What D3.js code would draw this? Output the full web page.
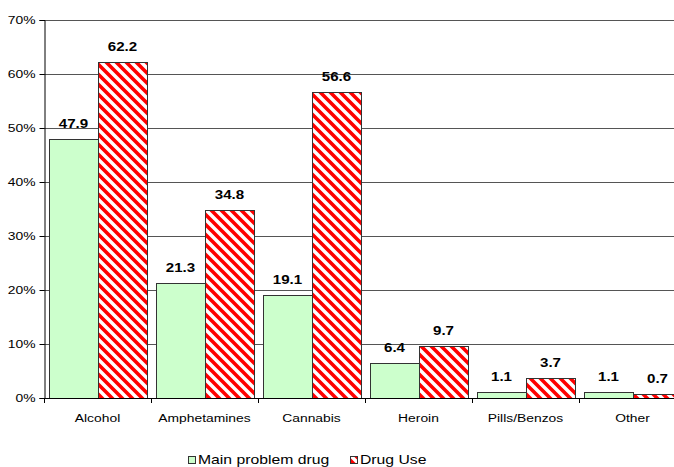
<!DOCTYPE html>
<html>
<head>
<meta charset="utf-8">
<script src="https://cdn.jsdelivr.net/npm/d3@7"></script>
<style>
  body { margin: 0; background: #fff; }
  svg { display: block; font-family: Arial, "Liberation Sans", sans-serif; }
</style>
</head>
<body>
<svg id="chart" width="674" height="467"></svg>
<script>
// Drug categories and the two series (percent of clients)
const categories = ["Alcohol", "Amphetamines", "Cannabis", "Heroin", "Pills/Benzos", "Other"];
const mainProblemDrug = [47.9, 21.3, 19.1, 6.4, 1.1, 1.1];
const drugUse = [62.2, 34.8, 56.6, 9.7, 3.7, 0.7];
const seriesNames = ["Main problem drug", "Drug Use"];
const yTicks = [0, 10, 20, 30, 40, 50, 60, 70];

const W = 674, H = 467;
const margin = { left: 44, top: 20, bottom: 69 };
const plotBottom = H - margin.bottom; // 398
const stretch = 1.26; // horizontal text widening

const svg = d3.select("#chart");

// Hatched fill used for the "Drug Use" series
const defs = svg.append("defs");
const pat = defs.append("pattern")
  .attr("id", "hatch")
  .attr("patternUnits", "userSpaceOnUse")
  .attr("width", 10).attr("height", 10);
pat.append("rect").attr("width", 10).attr("height", 10).attr("fill", "#fff");
pat.append("path")
  .attr("d", "M-5,5 L5,15 M0,0 L10,10 M5,-5 L15,5")
  .attr("stroke", "#ff0000").attr("stroke-width", 3.6);

const fills = ["#ccffcc", "url(#hatch)"];

const x0 = d3.scaleBand().domain(categories).range([margin.left, margin.left + 107 * 6]);
const x1 = d3.scaleBand().domain([0, 1]).range([5, 103]);
const y = d3.scaleLinear().domain([0, 70]).range([plotBottom, margin.top]);

// widen a text node horizontally around its anchor point
function widen(sel) {
  sel.each(function () {
    const t = d3.select(this);
    const tx = +t.attr("x") || 0;
    const ty = +t.attr("y") || 0;
    t.attr("x", 0).attr("y", 0)
     .attr("transform", `translate(${tx},${ty}) scale(${stretch},1)`);
  });
}

// Horizontal gridlines
svg.append("g").selectAll("line")
  .data(yTicks.filter(d => d > 0))
  .join("line")
  .attr("x1", margin.left).attr("x2", W)
  .attr("y1", d => Math.round(y(d)) + 0.5).attr("y2", d => Math.round(y(d)) + 0.5)
  .attr("stroke", "#555").attr("stroke-width", 1);

// Bars
const series = [mainProblemDrug, drugUse];
const groups = svg.append("g").selectAll("g")
  .data(categories)
  .join("g")
  .attr("transform", d => `translate(${x0(d)},0)`);

groups.selectAll("rect")
  .data((d, i) => series.map((s, k) => ({ k, v: s[i] })))
  .join("rect")
  .attr("x", d => x1(d.k) + 0.5)
  .attr("width", x1.bandwidth())
  .attr("y", d => Math.round(y(d.v)) + 0.5)
  .attr("height", d => plotBottom - Math.round(y(d.v)))
  .attr("fill", d => fills[d.k])
  .attr("stroke", "#333").attr("stroke-width", 1);

// Value labels
groups.selectAll("text")
  .data((d, i) => series.map((s, k) => ({ k, v: s[i] })))
  .join("text")
  .attr("x", d => x1(d.k) + x1.bandwidth() / 2)
  .attr("y", d => y(d.v) - 11)
  .attr("text-anchor", "middle")
  .attr("font-size", 12).attr("font-weight", "bold")
  .attr("fill", "#000")
  .text(d => d.v.toFixed(1))
  .call(widen);

// Y axis
const yAxis = svg.append("g")
  .attr("transform", `translate(${margin.left + 0.5},0)`)
  .call(d3.axisLeft(y).tickValues(yTicks).tickFormat(d => d + "%").tickSize(5).tickPadding(4));
yAxis.select(".domain").attr("stroke", "#000");
yAxis.selectAll(".tick line").attr("stroke", "#000");
yAxis.selectAll(".tick text")
  .attr("font-size", 11).attr("font-family", "Arial, 'Liberation Sans', sans-serif")
  .attr("fill", "#000").attr("dy", "0.35em")
  .call(widen);

// X axis: baseline, boundary ticks and category names
const xAxis = svg.append("g");
xAxis.append("line")
  .attr("x1", margin.left).attr("x2", W)
  .attr("y1", plotBottom + 0.5).attr("y2", plotBottom + 0.5)
  .attr("stroke", "#000");
const bounds = categories.map(c => x0(c)).concat([x0.range()[1]]);
xAxis.selectAll("line.tk")
  .data(bounds)
  .join("line").attr("class", "tk")
  .attr("x1", d => Math.round(d) + 0.5).attr("x2", d => Math.round(d) + 0.5)
  .attr("y1", plotBottom).attr("y2", plotBottom + 5)
  .attr("stroke", "#000");
xAxis.selectAll("text")
  .data(categories)
  .join("text")
  .attr("x", d => x0(d) + x0.bandwidth() / 2)
  .attr("y", plotBottom + 24)
  .attr("text-anchor", "middle")
  .attr("font-size", 11).attr("fill", "#000")
  .text(d => d)
  .call(widen);

// Legend
const legendItems = [
  { name: seriesNames[0], fill: fills[0], x: 188 },
  { name: seriesNames[1], fill: fills[1], x: 350 }
];
const lg = svg.append("g").selectAll("g")
  .data(legendItems)
  .join("g")
  .attr("transform", d => `translate(${d.x},0)`);
lg.append("rect")
  .attr("x", 0.5).attr("y", 456.5)
  .attr("width", 7).attr("height", 7)
  .attr("fill", d => d.fill)
  .attr("stroke", "#333");
lg.append("text")
  .attr("x", 10).attr("y", 464)
  .attr("font-size", 12.5).attr("fill", "#000")
  .text(d => d.name)
  .call(widen);
</script>
</body>
</html>
